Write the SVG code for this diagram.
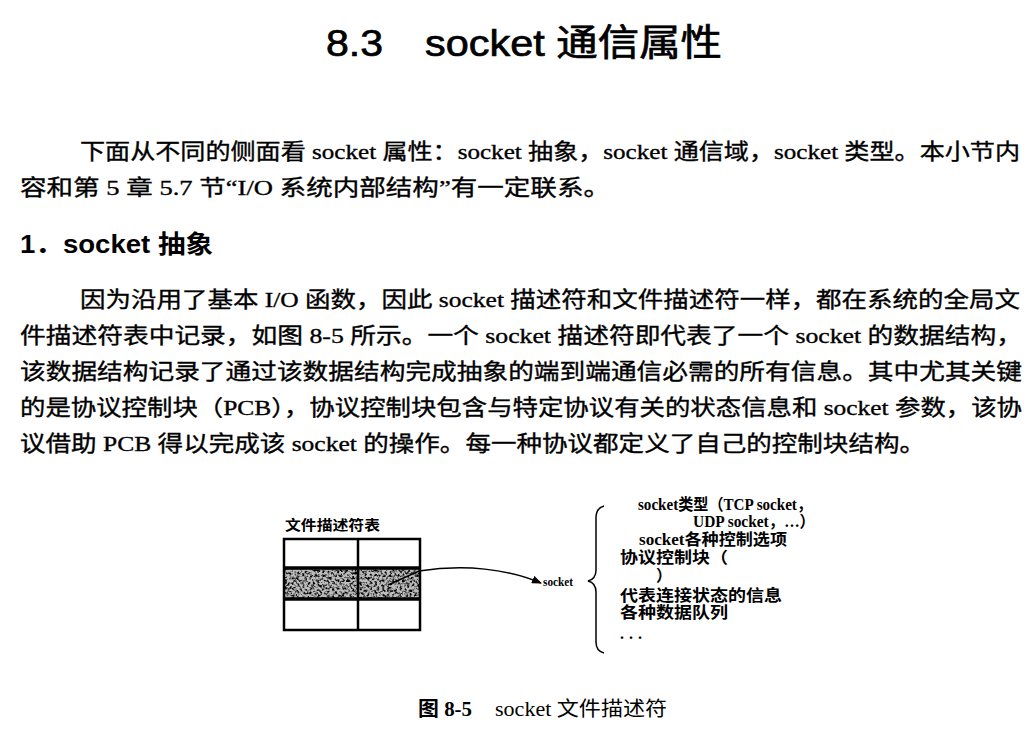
<svg xmlns="http://www.w3.org/2000/svg" width="1036" height="735" viewBox="0 0 1036 735">
  <style>
    .title { font-family: "Liberation Sans", "Noto Sans CJK SC", sans-serif; font-size: 37px; fill: #000; stroke: #000; stroke-width: 0.7px; }
    .body { font-family: "Liberation Serif", "Noto Sans CJK SC", serif; font-size: 22px; fill: #000; stroke: #000; stroke-width: 0.35px; }
    .head { font-family: "Liberation Sans", "Noto Sans CJK SC", sans-serif; font-size: 25px; fill: #000; font-weight: bold; }
    .lbl { font-family: "Liberation Serif", "Noto Sans CJK SC", serif; font-size: 16px; font-weight: bold; fill: #000; }
    .tbltitle { font-family: "Noto Sans CJK SC", sans-serif; font-size: 14px; font-weight: bold; fill: #000; }
    .sock { font-family: "Liberation Serif", serif; font-size: 12px; font-weight: bold; fill: #000; }
    .cap { font-family: "Liberation Serif", "Noto Sans CJK SC", serif; font-size: 20px; fill: #000; }
    .grid { fill: none; stroke: #000; stroke-width: 2.5; }
    .conn { fill: none; stroke: #000; stroke-width: 1.5; }
  </style>
  <defs>
    <marker id="arrow" viewBox="0 0 10 8" refX="9" refY="4" markerWidth="10" markerHeight="8" markerUnits="userSpaceOnUse" orient="auto">
      <path d="M0,0 L10,4 L0,8 Z" fill="#000"/>
    </marker>
    <filter id="mottle" x="0" y="0" width="1" height="1">
      <feTurbulence type="fractalNoise" baseFrequency="0.4" numOctaves="2" seed="7" result="n"/>
      <feColorMatrix in="n" type="matrix" values="0 0 0 0 0  0 0 0 0 0  0 0 0 0 0  -3.5 0 0 0 2.0" result="a"/>
      <feComposite in="a" in2="SourceGraphic" operator="in"/>
    </filter>
  </defs>
  <rect width="1036" height="735" fill="#fff"/>

  <g id="title">
    <text class="title" x="326" y="56" textLength="57" lengthAdjust="spacingAndGlyphs">8.3</text>
    <text class="title" x="425" y="56" textLength="297" lengthAdjust="spacingAndGlyphs">socket 通信属性</text>
  </g>

  <g id="paragraph-1">
    <text class="body" x="80" y="159" textLength="940" lengthAdjust="spacingAndGlyphs">下面从不同的侧面看 socket 属性：socket 抽象，socket 通信域，socket 类型。本小节内</text>
    <text class="body" x="20" y="195" textLength="590" lengthAdjust="spacingAndGlyphs">容和第 5 章 5.7 节“I/O 系统内部结构”有一定联系。</text>
  </g>

  <g id="heading">
    <text class="head" x="20" y="253" textLength="193" lengthAdjust="spacingAndGlyphs">1．socket 抽象</text>
  </g>

  <g id="paragraph-2">
    <text class="body" x="80" y="307" textLength="940" lengthAdjust="spacingAndGlyphs">因为沿用了基本 I/O 函数，因此 socket 描述符和文件描述符一样，都在系统的全局文</text>
    <text class="body" x="20" y="343" textLength="1002" lengthAdjust="spacingAndGlyphs">件描述符表中记录，如图 8-5 所示。一个 socket 描述符即代表了一个 socket 的数据结构，</text>
    <text class="body" x="20" y="379" textLength="1002" lengthAdjust="spacingAndGlyphs">该数据结构记录了通过该数据结构完成抽象的端到端通信必需的所有信息。其中尤其关键</text>
    <text class="body" x="20" y="415" textLength="1002" lengthAdjust="spacingAndGlyphs">的是协议控制块（PCB），协议控制块包含与特定协议有关的状态信息和 socket 参数，该协</text>
    <text class="body" x="20" y="451" textLength="905" lengthAdjust="spacingAndGlyphs">议借助 PCB 得以完成该 socket 的操作。每一种协议都定义了自己的控制块结构。</text>
  </g>

  <g id="fd-table">
    <text class="tbltitle" x="285" y="530" textLength="95" lengthAdjust="spacingAndGlyphs">文件描述符表</text>
    <rect x="284" y="568" width="136" height="31" fill="#bdbdbd"/>
    <rect x="284" y="568" width="136" height="31" fill="#1a1a1a" filter="url(#mottle)"/>
    <rect class="grid" x="284" y="539" width="136" height="91"/>
    <line class="grid" x1="358" y1="539" x2="358" y2="630"/>
    <line x1="284" y1="568" x2="420" y2="568" stroke="#000" stroke-width="3.5"/>
    <line x1="284" y1="599" x2="420" y2="599" stroke="#000" stroke-width="3.5"/>
  </g>

  <g id="connectors">
    <path class="conn" d="M388,585 L419,571 C465,564 508,569 541,583" marker-end="url(#arrow)"/>
  </g>

  <g id="socket-node">
    <text class="sock" x="543" y="586" textLength="30" lengthAdjust="spacingAndGlyphs">socket</text>
  </g>

  <g id="socket-struct">
    <path class="conn" d="M604,506 Q596,508 596,518 L596,570 Q596,579 588,581 Q596,583 596,592 L596,642 Q596,651 604,653"/>
    <text class="lbl" x="638" y="510" textLength="174" lengthAdjust="spacingAndGlyphs">socket类型（TCP socket，</text>
    <text class="lbl" x="693" y="527" textLength="122" lengthAdjust="spacingAndGlyphs">UDP socket，…）</text>
    <text class="lbl" x="639" y="545" textLength="148" lengthAdjust="spacingAndGlyphs">socket各种控制选项</text>
    <text class="lbl" x="620" y="563" textLength="108" lengthAdjust="spacingAndGlyphs">协议控制块（</text>
    <text class="lbl" x="656" y="581">）</text>
    <text class="lbl" x="620" y="601" textLength="162" lengthAdjust="spacingAndGlyphs">代表连接状态的信息</text>
    <text class="lbl" x="620" y="618" textLength="108" lengthAdjust="spacingAndGlyphs">各种数据队列</text>
    <text class="lbl" x="620" y="639" textLength="22" lengthAdjust="spacing">...</text>
  </g>

  <g id="caption">
    <text class="cap" x="418" y="716" font-weight="bold" textLength="54" lengthAdjust="spacingAndGlyphs">图 8-5</text>
    <text class="cap" x="495" y="716" textLength="172" lengthAdjust="spacingAndGlyphs">socket 文件描述符</text>
  </g>
</svg>
